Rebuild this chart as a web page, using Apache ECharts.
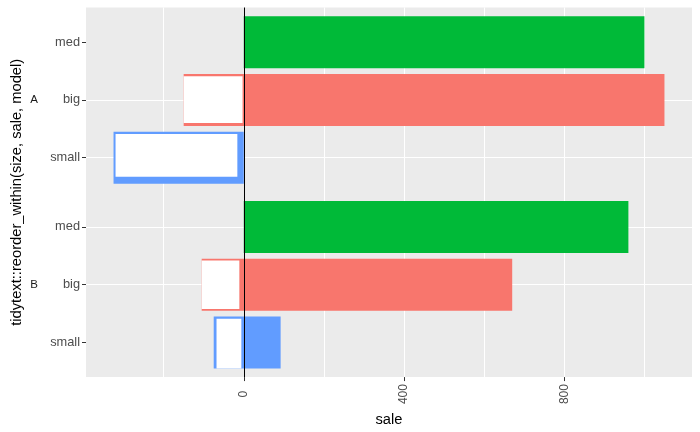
<!DOCTYPE html>
<html>
<head>
<meta charset="utf-8">
<script src="https://cdn.jsdelivr.net/npm/echarts@6/dist/echarts.min.js"></script>
<style>
  html, body { margin: 0; padding: 0; background: #fff; }
  #chart { width: 700px; height: 432px; }
</style>
</head>
<body>
<div id="chart"></div>
<script>
// rows, top to bottom, grouped by facet (model)
const models = ['A', 'A', 'A', 'B', 'B', 'B'];
const sizes = ['med', 'big', 'small', 'med', 'big', 'small'];
const saleFrom = [0, -150, -325, 0, -105, -75];
const saleTo = [1000, 1050, 0, 960, 670, 92];

// white boxes sitting on the negative part of the bars
const whiteFrom = [null, -150, -320, null, -105, -68];
const whiteTo = [null, -3, -16, null, -11, -6];
const whiteTop = [null, -0.41, -0.41, null, -0.42, -0.41];
const whiteBottom = [null, 0.40, 0.33, null, 0.42, 0.45];

const facets = ['A', 'B'];
const xTicks = [0, 400, 800];

const SIZE_COLORS = { big: '#F8766D', med: '#00BA38', small: '#619CFF' };
const FONT = 'Liberation Sans, Arial, sans-serif';
const BAR_HALF = 0.45;
const EXPAND = 0.6;

// facet layout like ggplot: each panel gets 0.6 units of padding top and bottom
const rowPos = [];
const facetMid = [];
let offset = 0;
facets.forEach(f => {
  let k = 0;
  models.forEach((m, i) => {
    if (m === f) rowPos[i] = offset + EXPAND + k++;
  });
  facetMid.push(offset + (k - 1 + 2 * EXPAND) / 2);
  offset += k - 1 + 2 * EXPAND;
});
const yMax = offset;

const lo = Math.min(...saleFrom);
const hi = Math.max(...saleTo);
const xMin = lo - 0.05 * (hi - lo);
const xMax = hi + 0.05 * (hi - lo);

const nameAt = (arr, labels) => v => {
  const i = arr.findIndex(p => Math.abs(p - v) < 1e-6);
  return i < 0 ? '' : labels[i];
};

const rect = (api, x0, x1, y0, y1, fill) => {
  const a = api.coord([x0, y0]);
  const b = api.coord([x1, y1]);
  return {
    type: 'rect',
    shape: {
      x: Math.min(a[0], b[0]), y: Math.min(a[1], b[1]),
      width: Math.abs(b[0] - a[0]), height: Math.abs(b[1] - a[1])
    },
    style: { fill: fill }
  };
};

const barData = sizes.map((s, i) => [saleFrom[i], saleTo[i], rowPos[i], i]);
const whiteData = [];
sizes.forEach((s, i) => {
  if (whiteFrom[i] !== null) {
    whiteData.push([whiteFrom[i], whiteTo[i], rowPos[i] + whiteTop[i], rowPos[i] + whiteBottom[i]]);
  }
});

const chart = echarts.init(document.getElementById('chart'));

const option = {
  animation: false,
  backgroundColor: '#fff',
  textStyle: { fontFamily: FONT },
  grid: {
    left: 86, right: 8, top: 7.5, bottom: 54,
    show: true, backgroundColor: '#EBEBEB', borderWidth: 0
  },
  xAxis: [{
    type: 'value', min: xMin, max: xMax,
    splitNumber: 8, minInterval: 200, maxInterval: 200,
    axisLine: { show: false, onZero: false }, axisTick: { show: false }, axisLabel: { show: false },
    splitLine: { show: true, showMinLine: false, showMaxLine: false, lineStyle: { color: '#fff', width: 1 } }
  }, {
    type: 'value', min: xMin, max: xMax, position: 'bottom',
    axisLine: { show: false, onZero: false },
    axisTick: { show: true, customValues: xTicks, length: 4, lineStyle: { color: '#333', width: 1 } },
    axisLabel: {
      customValues: xTicks, rotate: 90, align: 'center', margin: 17,
      color: '#4D4D4D', fontSize: 12, fontFamily: FONT
    },
    splitLine: { show: false },
    name: 'sale', nameLocation: 'middle', nameGap: 29,
    nameTextStyle: { color: '#000', fontSize: 14.7, fontFamily: FONT }
  }],
  yAxis: [{
    type: 'value', inverse: true, min: 0, max: yMax, position: 'left',
    axisLine: { show: false, onZero: false },
    axisTick: { show: true, customValues: rowPos, length: 4, lineStyle: { color: '#333', width: 1 } },
    axisLabel: {
      customValues: rowPos, margin: 6, color: '#4D4D4D', fontSize: 12.8, fontFamily: FONT,
      formatter: nameAt(rowPos, sizes)
    },
    splitLine: { show: true, showMinLine: false, showMaxLine: false, lineStyle: { color: '#fff', width: 1 } },
    name: 'tidytext::reorder_within(size, sale, model)',
    nameLocation: 'middle', nameRotate: 90, nameGap: 62,
    nameTextStyle: { color: '#000', fontSize: 14.7, fontFamily: FONT }
  }, {
    type: 'value', inverse: true, min: 0, max: yMax, position: 'left',
    axisLine: { show: false, onZero: false }, axisTick: { show: false }, splitLine: { show: false },
    axisLabel: {
      customValues: facetMid, margin: 48, color: '#1A1A1A', fontSize: 11.5, fontFamily: FONT,
      formatter: nameAt(facetMid, facets)
    }
  }],
  series: [{
    type: 'custom',
    xAxisIndex: 0, yAxisIndex: 0,
    encode: { x: [0, 1], y: 2 },
    data: barData,
    renderItem: (params, api) => {
      const pos = api.value(2);
      const s = sizes[api.value(3)];
      return rect(api, api.value(0), api.value(1), pos - BAR_HALF, pos + BAR_HALF, SIZE_COLORS[s]);
    },
    z: 2
  }, {
    type: 'custom',
    xAxisIndex: 0, yAxisIndex: 0,
    encode: { x: [0, 1], y: [2, 3] },
    data: whiteData,
    renderItem: (params, api) =>
      rect(api, api.value(0), api.value(1), api.value(2), api.value(3), '#fff'),
    z: 3
  }, {
    type: 'line',
    xAxisIndex: 0, yAxisIndex: 0,
    data: [],
    z: 4,
    markLine: {
      silent: true, symbol: 'none', animation: false,
      label: { show: false },
      lineStyle: { color: '#000', width: 1, type: 'solid' },
      data: [{ xAxis: 0 }]
    }
  }]
};

chart.setOption(option);
window.addEventListener('resize', () => chart.resize());
</script>
</body>
</html>
